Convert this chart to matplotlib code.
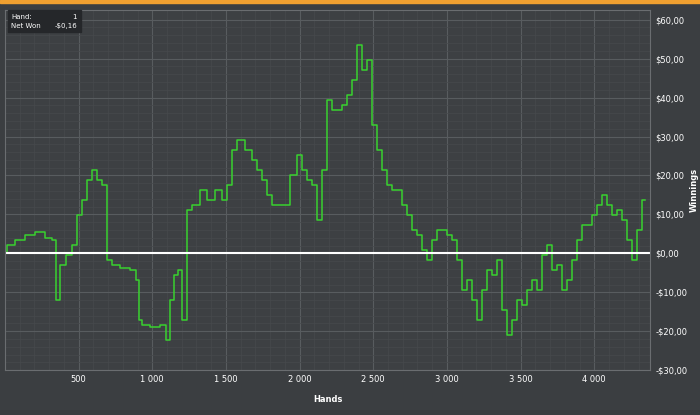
import matplotlib
matplotlib.use("Agg")
import matplotlib.pyplot as plt
from matplotlib.ticker import FixedLocator

px = [5,10,20,30,40,50,55,58,62,70,75,80,85,90,95,100,105,110,115,125,135,138,140,145,155,165,168,172,176,180,185,190,195,205,210,220,225,230,235,240,250,255,260,265,270,275,285,295,300,305,310,315,320,325,330,335,340,345,350,355,360,365,370,375,380,385,390,395,400,405,410,415,420,425,430,435,440,445,450,455,460,465,470,475,480,485,490,495,500,505,510,515,520,525,530,535,540,545,550,555,560,565,570,575,580,585,590,595,600,605,610,615,620,625,630,635,640,645]
py = [253,245,240,235,232,238,240,300,265,255,245,215,200,180,170,180,185,260,265,268,270,280,320,325,327,325,340,300,275,270,320,210,205,190,200,190,200,185,150,140,150,160,170,180,195,205,205,175,155,170,180,185,220,170,100,110,110,105,95,80,45,70,60,125,150,170,185,190,190,205,215,230,235,250,260,240,230,230,235,240,260,290,280,300,320,290,270,275,260,310,335,320,300,305,290,280,290,255,245,270,265,290,280,260,240,225,225,215,205,195,205,215,210,220,240,260,230,200]
hands = [round((p - 5) / 0.1474) for p in px]
winnings = [round((253 - y) / 3.89, 2) for y in py]

bg = "#3b3e41"
fig = plt.figure(figsize=(7, 4.15), dpi=100, facecolor=bg)
ax = fig.add_axes([0.007, 0.108, 0.922, 0.868], facecolor="#3d4043")
ax.plot(hands, winnings, color="#39d12f", lw=1.1, drawstyle="steps-mid")
ax.axhline(0, color="white", lw=1.5)
ax.set_xlim(0, 4380)
ax.set_ylim(-30, 62.5)
ax.yaxis.tick_right()
ax.yaxis.set_label_position("right")
yt = list(range(-30, 61, 10))
ax.set_yticks(yt)
ax.set_yticklabels([("-$%d,00" % -v) if v < 0 else ("$%d,00" % v) for v in yt])
xt = [500, 1000, 1500, 2000, 2500, 3000, 3500, 4000]
ax.set_xticks(xt)
ax.set_xticklabels([f"{v:,}".replace(",", " ") for v in xt])
ax.xaxis.set_minor_locator(FixedLocator(list(range(0, 4400, 100))))
ax.yaxis.set_minor_locator(FixedLocator(list(range(-30, 62, 2))))
ax.grid(True, which="major", color="#585c5f", lw=0.8)
ax.grid(True, which="minor", color="#46494c", lw=0.5)
ax.tick_params(colors="white", labelsize=6, length=0, which="both")
ax.set_xlabel("Hands", color="white", fontsize=6, fontweight="bold", labelpad=8)
ax.set_ylabel("Winnings", color="white", fontsize=6, fontweight="bold", labelpad=2)
for s in ax.spines.values():
    s.set_color("#6a6d70")
fig.patches.append(plt.Rectangle((0, 0.993), 1, 0.007, transform=fig.transFigure, color="#f0a030"))
fig.patches.append(plt.Rectangle((0.011, 0.923), 0.104, 0.053, transform=fig.transFigure, color="#25272a", zorder=5))
fig.text(0.016, 0.96, "Hand:", color="white", fontsize=5, va="center", zorder=6)
fig.text(0.11, 0.96, "1", color="white", fontsize=5, va="center", ha="right", zorder=6)
fig.text(0.016, 0.937, "Net Won", color="white", fontsize=5, va="center", zorder=6)
fig.text(0.11, 0.937, "-$0,16", color="white", fontsize=5, va="center", ha="right", zorder=6)
fig.savefig("out.png", facecolor=bg)
